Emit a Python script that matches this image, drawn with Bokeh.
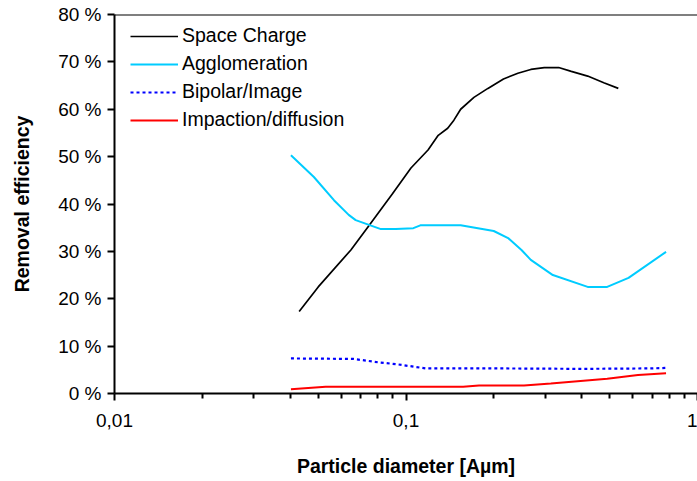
from bokeh.plotting import figure
from bokeh.models import Range1d, FixedTicker, PrintfTickFormatter, CustomJSTickFormatter, Span
from bokeh.embed import file_html
from bokeh.resources import INLINE

# Particle diameter [µm] and removal efficiency [%]
sc_x = [0.043, 0.05, 0.0647, 0.0758, 0.09, 0.104, 0.119, 0.129, 0.139, 0.146, 0.154, 0.171,
        0.191, 0.216, 0.242, 0.268, 0.298, 0.334, 0.369, 0.42, 0.477, 0.535]
sc_y = [17.3, 22.5, 30.3, 36.0, 42.2, 47.6, 51.4, 54.5, 56.0, 57.7, 60.0, 62.5,
        64.4, 66.4, 67.6, 68.4, 68.8, 68.8, 68.0, 67.0, 65.6, 64.4]

ag_x = [0.0403, 0.0483, 0.0566, 0.0636, 0.0672, 0.082, 0.0922, 0.106, 0.112, 0.154,
        0.2, 0.224, 0.249, 0.268, 0.319, 0.42, 0.49, 0.58, 0.78]
ag_y = [50.3, 45.7, 40.8, 37.7, 36.6, 34.7, 34.7, 34.9, 35.5, 35.5,
        34.3, 32.8, 30.3, 28.2, 25.0, 22.5, 22.5, 24.4, 29.9]

bp_x = [0.0403, 0.066, 0.080, 0.0922, 0.117, 0.135, 0.2, 0.4, 0.7, 0.78]
bp_y = [7.4, 7.3, 6.6, 6.2, 5.3, 5.3, 5.3, 5.2, 5.3, 5.4]

im_x = [0.0403, 0.053, 0.0647, 0.157, 0.178, 0.254, 0.314, 0.49, 0.625, 0.78]
im_y = [0.9, 1.4, 1.4, 1.4, 1.7, 1.7, 2.1, 3.1, 3.9, 4.3]

y_ticks = [0, 10, 20, 30, 40, 50, 60, 70, 80]
x_ticks = [0.01, 0.1, 1]
x_minor_ticks = [0.02, 0.03, 0.04, 0.05, 0.06, 0.07, 0.08, 0.09,
                 0.2, 0.3, 0.4, 0.5, 0.6, 0.7, 0.8, 0.9]

FONT = "Liberation Sans"

p = figure(width=697, height=481, x_axis_type="log",
           x_range=Range1d(0.01, 1.0), y_range=Range1d(0, 80),
           output_backend="svg", toolbar_location=None,
           min_border_left=114, min_border_right=0, min_border_top=14, min_border_bottom=88)
p.outline_line_color = None
p.xgrid.visible = False
p.ygrid.visible = False
p.background_fill_color = "white"

p.line(sc_x, sc_y, line_color="black", line_width=1.7, legend_label="Space Charge")
p.line(ag_x, ag_y, line_color="#00CCFF", line_width=2, legend_label="Agglomeration")
p.line(bp_x, bp_y, line_color="#0000FF", line_width=2.2, line_dash="3 3", legend_label="Bipolar/Image")
p.line(im_x, im_y, line_color="#FF0000", line_width=2, legend_label="Impaction/diffusion")

p.add_layout(Span(location=80, dimension="width", line_color="black", line_width=2))

# axes
for ax in (p.xaxis[0], p.yaxis[0]):
    ax.axis_line_width = 2
    ax.axis_line_color = "black"
    ax.major_tick_line_width = 2
    ax.minor_tick_line_width = 2
    ax.major_tick_line_color = "black"
    ax.minor_tick_line_color = "black"
    ax.major_tick_in = 0
    ax.minor_tick_in = 0
    ax.major_label_text_font = FONT
    ax.major_label_text_font_size = "19px"
    ax.major_label_text_color = "black"
    ax.axis_label_text_font = FONT
    ax.axis_label_text_font_style = "bold"
    ax.axis_label_text_font_size = "19.5px"
    ax.axis_label_text_color = "black"

xa = p.xaxis[0]
xa.ticker = FixedTicker(ticks=x_ticks, minor_ticks=x_minor_ticks)
xa.major_tick_out = 7
xa.minor_tick_out = 5
xa.major_label_standoff = 13
xa.formatter = CustomJSTickFormatter(code="return tick.toString().replace('.', ',');")
xa.axis_label = "Particle diameter [A\u00b5m]"
xa.axis_label_standoff = 25

ya = p.yaxis[0]
ya.ticker = FixedTicker(ticks=y_ticks, minor_ticks=[])
ya.major_tick_out = 7
ya.minor_tick_out = 0
ya.major_label_standoff = 6
ya.formatter = PrintfTickFormatter(format="%d %%")
ya.axis_label = "Removal efficiency"
ya.axis_label_standoff = 22

lg = p.legend[0]
lg.location = (16, 259.3)
lg.margin = 0
lg.padding = 0
lg.spacing = 0
lg.border_line_color = None
lg.background_fill_alpha = 0
lg.glyph_width = 48
lg.glyph_height = 28
lg.label_height = 28
lg.label_standoff = 4
lg.label_text_font = FONT
lg.label_text_font_size = "19.5px"
lg.label_text_color = "black"

open("out.html", "w").write(file_html(p, INLINE))
